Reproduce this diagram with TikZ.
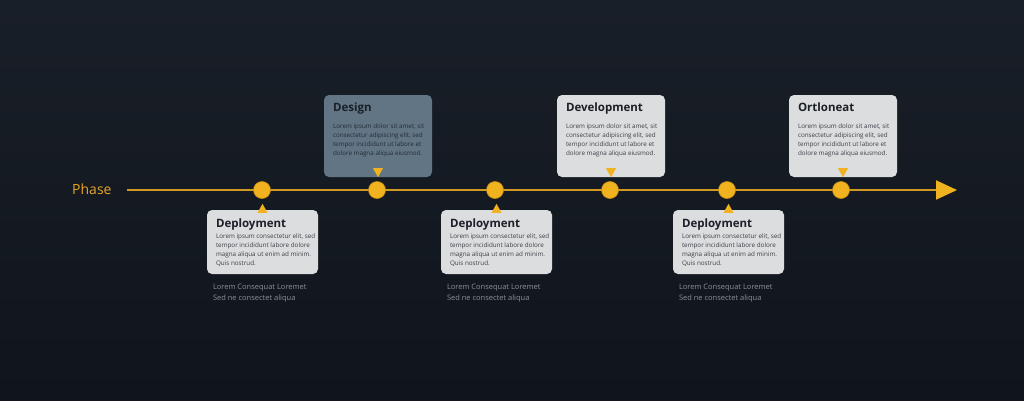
\documentclass[tikz,border=0pt]{standalone}
\usepackage{fontspec}
\setmainfont{Open Sans}
\usetikzlibrary{arrows.meta, positioning, shapes}

\definecolor{bgtop}{HTML}{191F28}
\definecolor{bgbot}{HTML}{10151C}
\definecolor{phase}{HTML}{E6A425}
\definecolor{rail}{HTML}{D29A22}
\definecolor{dot}{HTML}{F0B21F}
\definecolor{dotrim}{HTML}{C88E14}
\definecolor{card}{HTML}{DCDDDF}
\definecolor{cardblue}{HTML}{627585}
\definecolor{ink}{HTML}{1B1F26}
\definecolor{inkgray}{HTML}{3A3E45}
\definecolor{inkblue}{HTML}{222B35}
\definecolor{note}{HTML}{8B9099}

\begin{document}
\begin{tikzpicture}[x=1pt, y=-1pt,
    card/.style={draw=none, fill=card, rounded corners=5pt, inner sep=0pt},
    topcard/.style={card, minimum width=108pt, minimum height=82pt},
    lowcard/.style={card, minimum width=111pt, minimum height=64pt},
    cardtitle/.style={inner sep=0pt, anchor=north west, text=ink, font=\fontsize{11.5}{13}\selectfont\bfseries},
    cardbody/.style={inner sep=0pt, anchor=north west, align=left, text=inkgray, font=\fontsize{6.3}{8.8}\selectfont},
    cardnote/.style={inner sep=0pt, anchor=north west, align=left, text=note, font=\fontsize{7.5}{11}\selectfont},
    milestone/.style={circle, fill=dot, draw=dotrim, line width=0.6pt, minimum size=17pt, inner sep=0pt},
    pointer/.style={fill=dot}
    ]
    % background
    \shade[top color=bgtop, bottom color=bgbot] (0,0) rectangle (1024,400);
    \useasboundingbox (0,0) rectangle (1024,400);

    % timeline
    \node[anchor=base west, inner sep=0pt, text=phase, font=\fontsize{14}{16}\selectfont] (phase) at (72,194) {Phase};
    \coordinate (tstart) at (127,190);
    \coordinate (tend) at (957,190);
    \draw[rail, line width=2pt, -{Triangle[length=21pt, width=19pt, fill=dot, color=dot]}] (tstart) -- (tend);
    \foreach \x [count=\i] in {262,377,495,610,727,841}
        \node[milestone] (m\i) at (\x,190) {};

    % upper cards
    \node[topcard, fill=cardblue] (design) at (378,136) {};
    \node[topcard] (develop) at (611,136) {};
    \node[topcard] (ortl) at (843,136) {};
    \foreach \c/\t/\k in {design/Design/inkblue, develop/Development/inkgray, ortl/Ortloneat/inkgray}{
        \node[cardtitle, below right=8pt and 9pt of \c.north west] (\c-title) {\t};
        \node[cardbody, text=\k, below right=29pt and 9pt of \c.north west] (\c-body)
            {Lorem ipsum dolor sit amet, sit\\ consectetur adipiscing elit, sed\\ tempor incididunt ut labore et\\ dolore magna aliqua eiusmod.};
        \fill[pointer] (\c.south) ++(-5,-9) -- ++(10,0) -- ++(-5,9) -- cycle;
    }

    % lower cards
    \node[lowcard] (deploy1) at (262.5,242) {};
    \node[lowcard] (deploy2) at (496.5,242) {};
    \node[lowcard] (deploy3) at (728.5,242) {};
    \foreach \c in {deploy1, deploy2, deploy3}{
        \node[cardtitle, below right=9pt and 9pt of \c.north west] (\c-title) {Deployment};
        \node[cardbody, below right=24pt and 9pt of \c.north west] (\c-body)
            {Lorem ipsum consectetur elit, sed\\ tempor incididunt labore dolore\\ magna aliqua ut enim ad minim.\\ Quis nostrud.};
        \fill[pointer] (\c.north) ++(-5,3) -- ++(10,0) -- ++(-5,-9) -- cycle;
        \node[cardnote, below right=10pt and 6pt of \c.south west] (\c-note)
            {Lorem Consequat Loremet\\ Sed ne consectet aliqua};
    }
\end{tikzpicture}
\end{document}
